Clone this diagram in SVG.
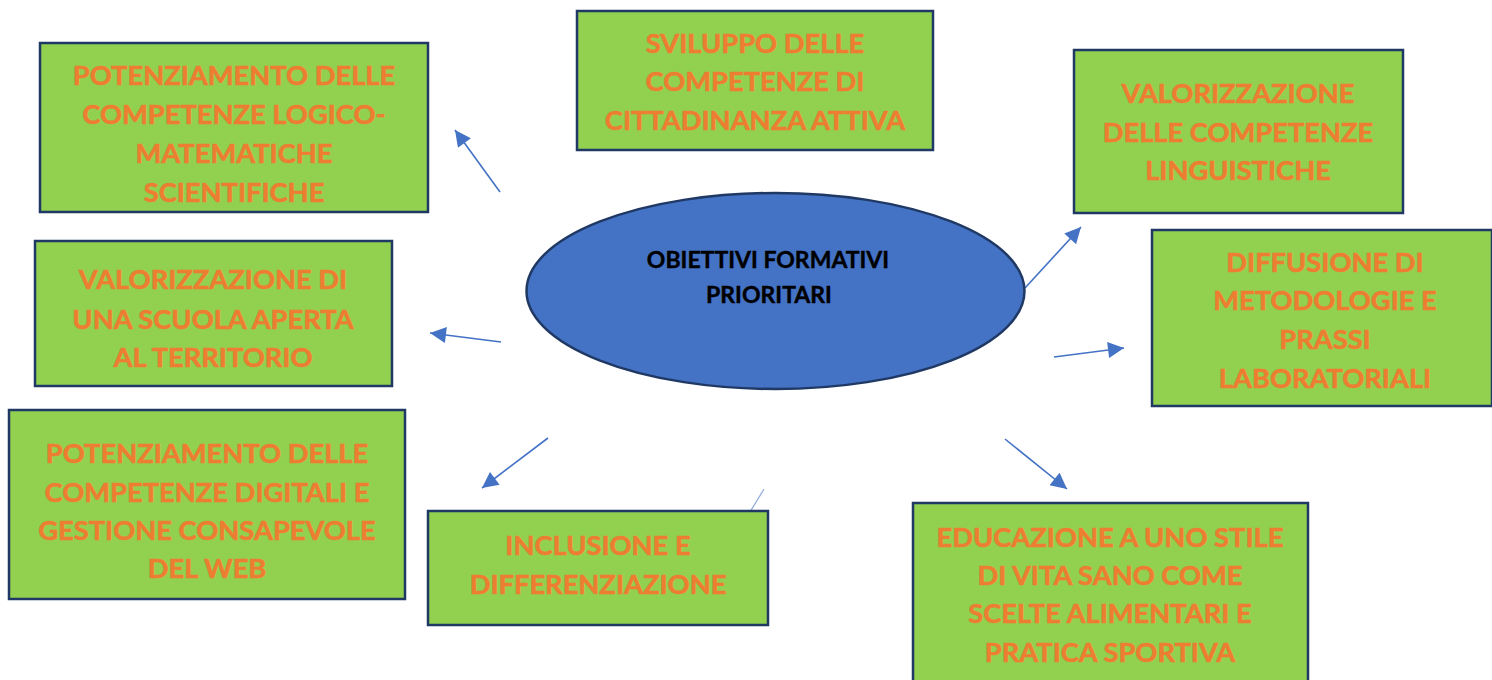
<svg xmlns="http://www.w3.org/2000/svg" width="1492" height="680" viewBox="0 0 1492 680">
<style>
.box{fill:#92D050;stroke:#1F3864;stroke-width:2.5}
.t{font-family:Lato,"Open Sans","Liberation Sans",sans-serif;font-weight:bold;font-size:27.3px;fill:#ED7D31;stroke:#ED7D31;stroke-width:0.6;text-anchor:middle}
.c{font-family:Lato,"Open Sans","Liberation Sans",sans-serif;font-weight:bold;font-size:23px;fill:#000;stroke:#000;stroke-width:0.4;text-anchor:middle}
.a{stroke:#4472C4;stroke-width:1.6;fill:none;marker-end:url(#ah)}
</style>
<defs>
<marker id="ah" viewBox="0 0 10 10" refX="10" refY="5" markerWidth="17" markerHeight="16" markerUnits="userSpaceOnUse" orient="auto">
<path d="M0,0 L10,5 L0,10 z" fill="#4472C4"/>
</marker>
</defs>
<rect width="1492" height="680" fill="#fff"/>
<g id="connectors">
<line class="a" x1="500" y1="192" x2="455" y2="130"/>
<line class="a" x1="501" y1="342" x2="430" y2="333"/>
<line class="a" x1="548" y1="438" x2="482" y2="488"/>
<line x1="764" y1="489" x2="750" y2="512" stroke="#8FAADC" stroke-width="1.2"/>
<line class="a" x1="1025" y1="288" x2="1081" y2="227"/>
<line class="a" x1="1054" y1="357" x2="1124" y2="348"/>
<line class="a" x1="1005" y1="439" x2="1067" y2="489"/>
</g>
<g id="center">
<ellipse cx="775.5" cy="291" rx="249" ry="98" fill="#4472C4" stroke="#1F3864" stroke-width="2.5"/>
<text class="c" x="768" y="268">OBIETTIVI FORMATIVI</text>
<text class="c" x="769" y="303">PRIORITARI</text>
</g>
<g id="n-logico">
<rect class="box" x="40" y="43" width="388" height="169"/>
<text class="t" x="234" y="85">POTENZIAMENTO DELLE</text>
<text class="t" x="234" y="124">COMPETENZE LOGICO-</text>
<text class="t" x="234" y="163">MATEMATICHE</text>
<text class="t" x="234" y="202">SCIENTIFICHE</text>
</g>
<g id="n-cittadinanza">
<rect class="box" x="577" y="11" width="356" height="139"/>
<text class="t" x="755" y="53">SVILUPPO DELLE</text>
<text class="t" x="755" y="91">COMPETENZE DI</text>
<text class="t" x="755" y="130">CITTADINANZA ATTIVA</text>
</g>
<g id="n-linguistiche">
<rect class="box" x="1074" y="50" width="329" height="163"/>
<text class="t" x="1238" y="103">VALORIZZAZIONE</text>
<text class="t" x="1238" y="142">DELLE COMPETENZE</text>
<text class="t" x="1238" y="180">LINGUISTICHE</text>
</g>
<g id="n-laboratoriali">
<rect class="box" x="1152" y="230" width="340" height="176"/>
<text class="t" x="1325" y="272">DIFFUSIONE DI</text>
<text class="t" x="1325" y="310">METODOLOGIE E</text>
<text class="t" x="1325" y="349">PRASSI</text>
<text class="t" x="1325" y="388">LABORATORIALI</text>
</g>
<g id="n-territorio">
<rect class="box" x="35" y="241" width="357" height="145"/>
<text class="t" x="213" y="289">VALORIZZAZIONE DI</text>
<text class="t" x="213" y="329">UNA SCUOLA APERTA</text>
<text class="t" x="213" y="367">AL TERRITORIO</text>
</g>
<g id="n-digitali">
<rect class="box" x="9" y="410" width="396" height="189"/>
<text class="t" x="207" y="463">POTENZIAMENTO DELLE</text>
<text class="t" x="207" y="502">COMPETENZE DIGITALI E</text>
<text class="t" x="207" y="540">GESTIONE CONSAPEVOLE</text>
<text class="t" x="207" y="578">DEL WEB</text>
</g>
<g id="n-inclusione">
<rect class="box" x="428" y="511" width="340" height="114"/>
<text class="t" x="598" y="555">INCLUSIONE E</text>
<text class="t" x="598" y="594">DIFFERENZIAZIONE</text>
</g>
<g id="n-salute">
<rect class="box" x="913" y="503" width="395" height="190"/>
<text class="t" x="1110" y="547">EDUCAZIONE A UNO STILE</text>
<text class="t" x="1110" y="585">DI VITA SANO COME</text>
<text class="t" x="1110" y="623">SCELTE ALIMENTARI E</text>
<text class="t" x="1110" y="662">PRATICA SPORTIVA</text>
</g>
</svg>
